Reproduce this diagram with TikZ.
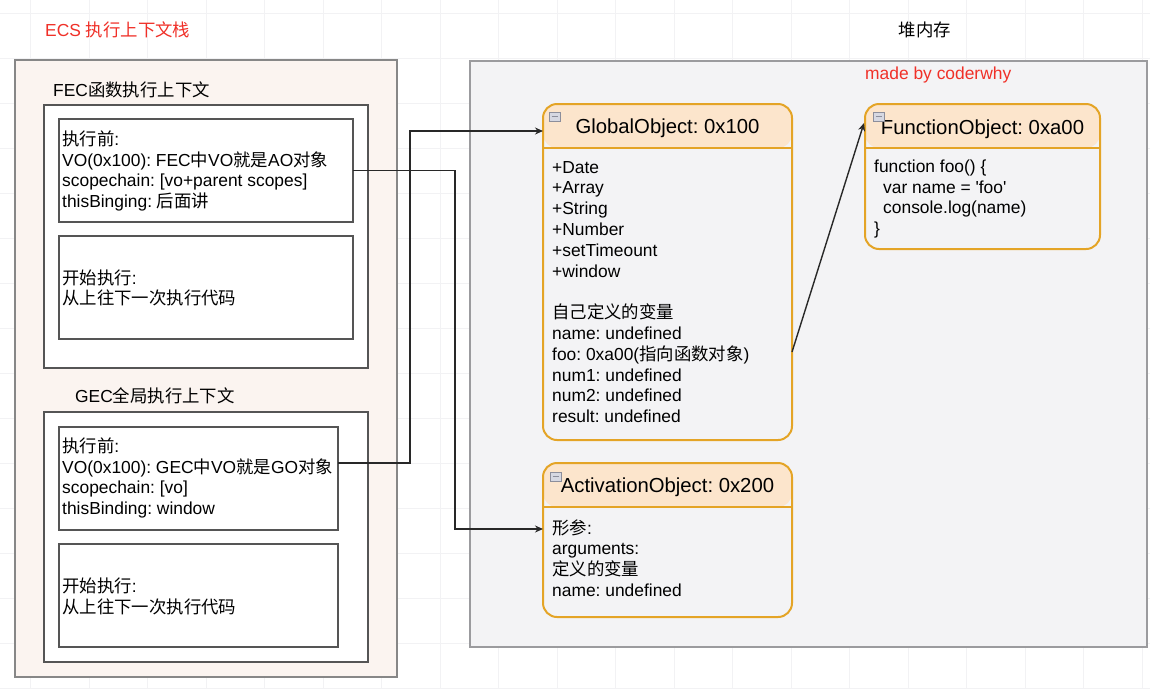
\documentclass[tikz,border=0pt]{standalone}
\usepackage{fontspec}
\setmainfont{Liberation Sans}
\newfontfamily\cjkf{Noto Sans CJK SC}
\newcommand\zhc[1]{{\cjkf #1}}
\newcommand\bodyfont{\frenchspacing\fontsize{17.4}{20.8}\selectfont}
\newcommand\hdrfont{\frenchspacing\fontsize{20.3}{24}\selectfont}
\usetikzlibrary{arrows.meta}
\definecolor{gridc}{RGB}{242,242,244}
\definecolor{ecsfill}{RGB}{251,244,240}
\definecolor{ecsdraw}{RGB}{135,135,135}
\definecolor{boxc}{RGB}{85,85,85}
\definecolor{heapfill}{RGB}{243,243,245}
\definecolor{heapdraw}{RGB}{155,155,158}
\definecolor{objc}{RGB}{228,164,38}
\definecolor{hdrfill}{RGB}{252,229,204}
\definecolor{redtxt}{RGB}{240,48,40}
\definecolor{connc}{RGB}{40,40,40}
\definecolor{iconfill}{RGB}{214,216,226}
\definecolor{icondraw}{RGB}{140,142,155}
\frenchspacing
\begin{document}
\begin{tikzpicture}[x=1pt,y=-1pt,
  frame/.style={draw=boxc, line width=1.4pt, fill=white, anchor=north west, inner sep=0pt, outer sep=0pt},
  obj/.style={draw=objc, line width=2pt, rounded corners=14pt, anchor=north west, fill=heapfill, inner sep=0pt, outer sep=0pt,
    path picture={\fill[hdrfill] ([yshift=2pt]path picture bounding box.north west) rectangle ([yshift=-44pt]path picture bounding box.north east);}},
  hdr/.style={font=\hdrfont, inner sep=0pt},
  body/.style={font=\bodyfont, align=left, inner sep=0pt, anchor=west},
  lbl/.style={font=\bodyfont, inner sep=0pt, anchor=west},
  conn/.style={draw=connc, line width=1.4pt, -{Stealth[length=8pt,width=7pt]}},
  icon/.style={draw=icondraw, fill=iconfill, line width=0.6pt}
]
\useasboundingbox (0,0) rectangle (1150,689);
\fill[white] (0,0) rectangle (1150,689);
% faint grid
\foreach \i in {0,...,19} {\draw[gridc, line width=0.6pt] ({30.5+58.5*\i},0) -- ({30.5+58.5*\i},689);}
\foreach \j in {0,...,15} {\draw[gridc, line width=0.6pt] (0,{13+45*\j}) -- (1150,{13+45*\j});}

% titles
\node[lbl, text=redtxt] (ecstitle) at (45,30) {ECS \zhc{执行上下文栈}};
\node[font=\bodyfont, inner sep=0pt] (heaptitle) at (925,30) {\zhc{堆内存}};

% ECS stack
\node[frame, draw=ecsdraw, fill=ecsfill, minimum width=382pt, minimum height=617pt] (ecs) at (15,60) {};
\node[lbl] (feclbl) at (53,90) {FEC\zhc{函数执行上下文}};
\node[frame, minimum width=324pt, minimum height=263pt] (fec) at (44,105) {};
\node[frame, minimum width=294pt, minimum height=103pt] (fecpre) at (59,119) {};
\node[body] (fecpretxt) at (62,171)
  {\zhc{执行前}:\\VO(0x100): FEC\zhc{中}VO\zhc{就是}AO\zhc{对象}\\scopechain: [vo+parent scopes]\\thisBinging: \zhc{后面讲}};
\node[frame, minimum width=294pt, minimum height=103pt] (fecrun) at (59,236) {};
\node[body] (fecruntxt) at (62,288)
  {\zhc{开始执行}:\\\zhc{从上往下一次执行代码}};
\node[lbl] (geclbl) at (75,396) {GEC\zhc{全局执行上下文}};
\node[frame, minimum width=324pt, minimum height=250pt] (gec) at (44,412) {};
\node[frame, minimum width=279pt, minimum height=103pt] (gecpre) at (59,427) {};
\node[body] (gecpretxt) at (62,478)
  {\zhc{执行前}:\\VO(0x100): GEC\zhc{中}VO\zhc{就是}GO\zhc{对象}\\scopechain: [vo]\\thisBinding: window};
\node[frame, minimum width=279pt, minimum height=103pt] (gecrun) at (59,544) {};
\node[body] (gecruntxt) at (62,596)
  {\zhc{开始执行}:\\\zhc{从上往下一次执行代码}};

% heap
\node[frame, draw=heapdraw, fill=heapfill, minimum width=677pt, minimum height=586pt] (heap) at (470,61) {};
\node[lbl, text=redtxt] (made) at (865,75) {made by coderwhy};

% GlobalObject
\node[obj, minimum width=249pt, minimum height=336pt] (go) at (543,104) {};
\draw[objc, line width=2pt] ([yshift=-44pt]go.north west) -- ([yshift=-44pt]go.north east);
\node[hdr] (gohdr) at (667.5,128) {GlobalObject: 0x100};
\node[body] (gobody) at (552,292)
  {+Date\\+Array\\+String\\+Number\\+setTimeount\\+window\\[20.8pt]\zhc{自己定义的变量}\\name: undefined\\foo: 0xa00(\zhc{指向函数对象})\\num1: undefined\\num2: undefined\\result: undefined};
\draw[icon] (549,112) rectangle ++(11,9);
\draw[icondraw, line width=1pt] (551.5,116.5) -- ++(6,0);

% FunctionObject
\node[obj, minimum width=235pt, minimum height=145pt] (fo) at (865,104) {};
\draw[objc, line width=2pt] ([yshift=-44pt]fo.north west) -- ([yshift=-44pt]fo.north east);
\node[hdr] (fohdr) at (982.5,129) {FunctionObject: 0xa00};
\node[body] (fobody) at (874,199)
  {function foo() \{\\\hspace*{9pt}var name = \textquotesingle foo\textquotesingle\\\hspace*{9pt}console.log(name)\\\}};
\draw[icon] (873,112) rectangle ++(11,9);
\draw[icondraw, line width=1pt] (875.5,116.5) -- ++(6,0);

% ActivationObject
\node[obj, minimum width=249pt, minimum height=154pt] (ao) at (543,463) {};
\draw[objc, line width=2pt] ([yshift=-44pt]ao.north west) -- ([yshift=-44pt]ao.north east);
\node[hdr] (aohdr) at (667.5,487) {ActivationObject: 0x200};
\node[body] (aobody) at (552,558)
  {\zhc{形参}:\\arguments:\\\zhc{定义的变量}\\name: undefined};
\draw[icon] (550,472) rectangle ++(11,9);
\draw[icondraw, line width=1pt] (552.5,476.5) -- ++(6,0);

% connectors
\draw[conn] (fecpre.east) -- ++(102,0) |- ([yshift=-66pt]ao.north west);
\draw[conn] ([yshift=15.5pt]gecpre.east) -- ++(72,0) |- ([yshift=-27pt]go.north west);
\draw[conn] ([yshift=-80pt]go.east) -- ([xshift=-1pt,yshift=-19pt]fo.north west);
\end{tikzpicture}
\end{document}
